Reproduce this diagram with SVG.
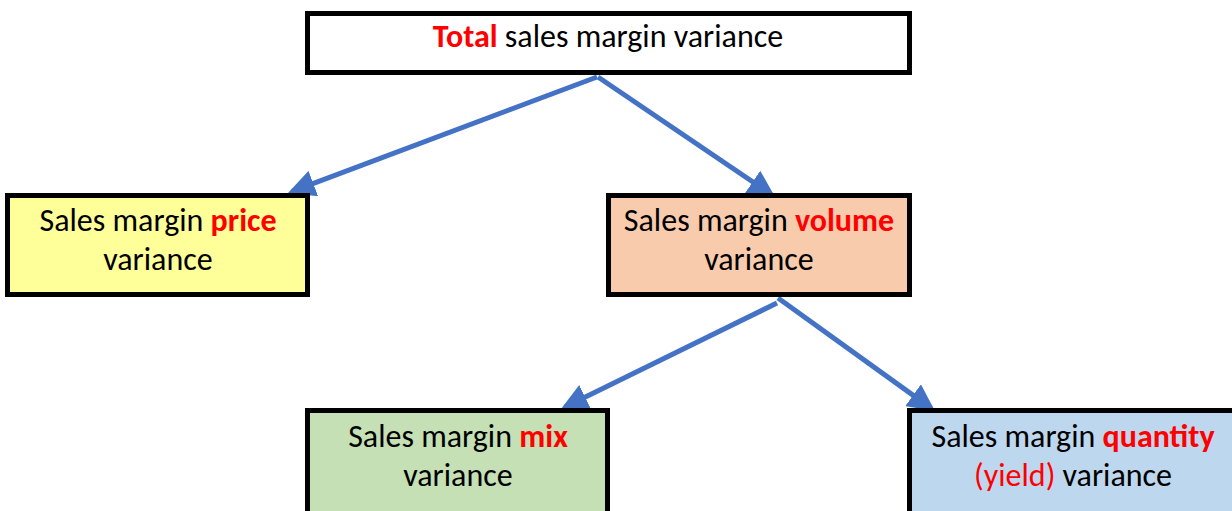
<svg xmlns="http://www.w3.org/2000/svg" width="1232" height="511" viewBox="0 0 1232 511">
<style>
.box{stroke:#000;stroke-width:5}
.t{font-family:Carlito,Lato,"Liberation Sans",sans-serif;font-size:32px;fill:#000;text-anchor:middle}
.r{fill:#FF0000}
.b{font-weight:bold}
.c{fill:none;stroke:#4472C4;stroke-width:5}
</style>
<defs>
<marker id="ah" viewBox="0 0 6 6" refX="5" refY="3" markerWidth="5.4" markerHeight="5.4" markerUnits="strokeWidth" orient="auto">
<path d="M0,0 L6,3 L0,6 z" fill="#4472C4"/>
</marker>
</defs>
<rect width="1232" height="511" fill="#fff"/>
<g id="connectors">
<line class="c" x1="597" y1="77" x2="292.2" y2="191.4" marker-end="url(#ah)"/>
<line class="c" x1="598" y1="77" x2="771.3" y2="194.5" marker-end="url(#ah)"/>
<line class="c" x1="777" y1="303" x2="565" y2="407" marker-end="url(#ah)"/>
<line class="c" x1="778" y1="298" x2="931.3" y2="408.4" marker-end="url(#ah)"/>
</g>
<g id="total">
<rect class="box" x="307.5" y="13.5" width="602" height="59" fill="#fff"/>
<text class="t" x="608" y="47"><tspan class="r b">Total</tspan> sales margin variance</text>
</g>
<g id="price">
<rect class="box" x="7.5" y="195.5" width="300" height="99" fill="#FFFF99"/>
<text class="t" x="158" y="231">Sales margin <tspan class="r b">price</tspan></text>
<text class="t" x="158" y="270">variance</text>
</g>
<g id="volume">
<rect class="box" x="608.5" y="195.5" width="301" height="99" fill="#F8CBAD"/>
<text class="t" x="759" y="231">Sales margin <tspan class="r b">volume</tspan></text>
<text class="t" x="759" y="270">variance</text>
</g>
<g id="mix">
<rect class="box" x="307.5" y="410.5" width="300" height="105" fill="#C5E0B4"/>
<text class="t" x="458" y="447">Sales margin <tspan class="r b">mix</tspan></text>
<text class="t" x="458" y="486">variance</text>
</g>
<g id="quantity">
<rect class="box" x="909.5" y="410.5" width="330" height="105" fill="#BDD7EE"/>
<text class="t" x="1073" y="447">Sales margin <tspan class="r b">quantity</tspan></text>
<text class="t" x="1073" y="486"><tspan class="r">(yield)</tspan> variance</text>
</g>
</svg>
